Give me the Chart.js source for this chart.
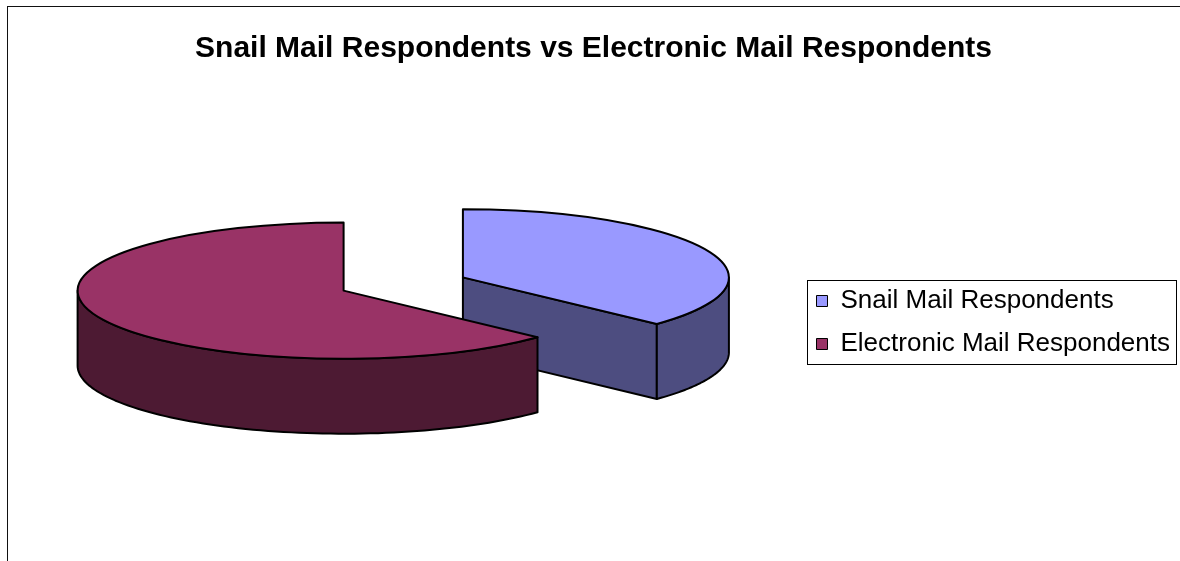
<!DOCTYPE html>
<html>
<head>
<meta charset="utf-8">
<script src="https://cdn.jsdelivr.net/npm/chart.js@4.4.0/dist/chart.umd.min.js"></script>
<style>
  html, body { margin: 0; padding: 0; background: #fff; }
  #wrap { width: 1180px; height: 561px; }
</style>
</head>
<body>
<div id="wrap"><canvas id="respChart" width="1180" height="561"></canvas></div>
<script>
// Chart data
var labels = ['Snail Mail Respondents', 'Electronic Mail Respondents'];
var values = [37, 63];

// colours: top face and darker side walls
var topColors = ['#9999FF', '#993366'];
var sideColors = ['#4D4D80', '#4D1A33'];

// 3D look
var tilt = 0.256;    // vertical squash of the pie top
var depth = 75;      // thickness of the pie in pixels
var explode = 65;    // how far each slice is pulled out

var fontFamily = "'Liberation Sans', Arial, sans-serif";

// Excel style outer frame (only top and left edges are in view)
var frame = {
    id: 'frame',
    beforeDraw: function(chart) {
        var ctx = chart.ctx;
        ctx.save();
        ctx.strokeStyle = '#111';
        ctx.lineWidth = 1;
        ctx.strokeRect(7.5, 6.5, 1300, 700);
        ctx.restore();
    }
};

// draw the slices as a tilted, exploded 3D pie
var pie3d = {
    id: 'pie3d',
    beforeDatasetDraw: function(chart, args) {
        var ctx = chart.ctx;
        var data = args.meta.data;
        var arcs = data.slice();

        // back slices first
        arcs.sort(function(a, b) {
            return Math.sin((a.startAngle + a.endAngle) / 2) - Math.sin((b.startAngle + b.endAngle) / 2);
        });

        arcs.forEach(function(arc) {
            var idx = data.indexOf(arc);
            var s = arc.startAngle, e = arc.endAngle;
            var mid = (s + e) / 2;
            var r = arc.outerRadius;
            var cx = arc.x + Math.cos(mid) * explode;
            var cy = arc.y + Math.sin(mid) * explode * tilt;

            function pt(t, dz) {
                return [cx + r * Math.cos(t), cy + r * tilt * Math.sin(t) + dz];
            }

            ctx.save();
            ctx.fillStyle = sideColors[idx];
            ctx.strokeStyle = '#000';
            ctx.lineWidth = 2;
            ctx.lineJoin = 'round';

            // cut faces that look toward the viewer
            [[s, Math.cos(s) < -0.01], [e, Math.cos(e) > 0.01]].forEach(function(f) {
                if (!f[1]) return;
                var p = pt(f[0], 0);
                ctx.beginPath();
                ctx.moveTo(cx, cy);
                ctx.lineTo(p[0], p[1]);
                ctx.lineTo(p[0], p[1] + depth);
                ctx.lineTo(cx, cy + depth);
                ctx.closePath();
                ctx.fill();
                ctx.stroke();
            });

            // outer wall, front half only
            for (var k = -1; k <= 1; k++) {
                var a = Math.max(s, 2 * Math.PI * k);
                var b = Math.min(e, 2 * Math.PI * k + Math.PI);
                if (b <= a) continue;
                var n = 80, i, p;
                ctx.beginPath();
                for (i = 0; i <= n; i++) {
                    p = pt(a + (b - a) * i / n, 0);
                    if (i === 0) ctx.moveTo(p[0], p[1]); else ctx.lineTo(p[0], p[1]);
                }
                for (i = n; i >= 0; i--) {
                    p = pt(a + (b - a) * i / n, depth);
                    ctx.lineTo(p[0], p[1]);
                }
                ctx.closePath();
                ctx.fill();
                ctx.stroke();
            }

            // top face: the library arc, squashed
            ctx.save();
            ctx.translate(cx, cy);
            ctx.scale(1, tilt);
            ctx.translate(-arc.x, -arc.y);
            arc.draw(ctx);
            ctx.beginPath();
            ctx.moveTo(arc.x, arc.y);
            ctx.arc(arc.x, arc.y, r, s, e);
            ctx.closePath();
            ctx.restore();
            ctx.stroke();

            ctx.restore();
        });
        return false;
    }
};

// box round the legend
var legendFrame = {
    id: 'legendFrame',
    afterDraw: function(chart) {
        var lg = chart.legend;
        if (!lg || !lg.columnSizes || !lg.columnSizes.length) return;
        var pad = lg.options.labels.padding;
        var col = lg.columnSizes[0];
        var x0 = lg.left + pad;
        var y0 = lg.bottom - col.height;
        var ctx = chart.ctx;
        ctx.save();
        ctx.strokeStyle = '#000';
        ctx.lineWidth = 1;
        ctx.strokeRect(Math.round(x0 - 10) + 0.5, Math.round(y0 - 8) + 0.5,
            Math.round(col.width + 16), Math.round(col.height - pad + 15));
        ctx.restore();
    }
};

var ctx = document.getElementById('respChart').getContext('2d');
new Chart(ctx, {
    type: 'pie',
    data: {
        labels: labels,
        datasets: [{
            data: values,
            backgroundColor: topColors,
            borderWidth: 0,
            radius: 266,
            clip: false
        }]
    },
    options: {
        responsive: false,
        animation: false,
        events: [],
        layout: {
            padding: { left: 7, right: 0, top: 0, bottom: 187 }
        },
        plugins: {
            title: {
                display: true,
                text: 'Snail Mail Respondents vs Electronic Mail Respondents',
                color: '#000',
                font: { family: fontFamily, size: 30, weight: 'bold' },
                padding: { top: 31, bottom: 127 }
            },
            legend: {
                position: 'right',
                align: 'end',
                labels: {
                    color: '#000',
                    font: { family: fontFamily, size: 26 },
                    boxWidth: 11,
                    boxHeight: 11,
                    padding: 17,
                    generateLabels: function(chart) {
                        var items = Chart.overrides.doughnut.plugins.legend.labels.generateLabels(chart);
                        items.forEach(function(it) {
                            it.lineWidth = 1;
                            it.strokeStyle = '#000';
                        });
                        return items;
                    }
                }
            },
            tooltip: { enabled: false }
        }
    },
    plugins: [frame, pie3d, legendFrame]
});
</script>
</body>
</html>
